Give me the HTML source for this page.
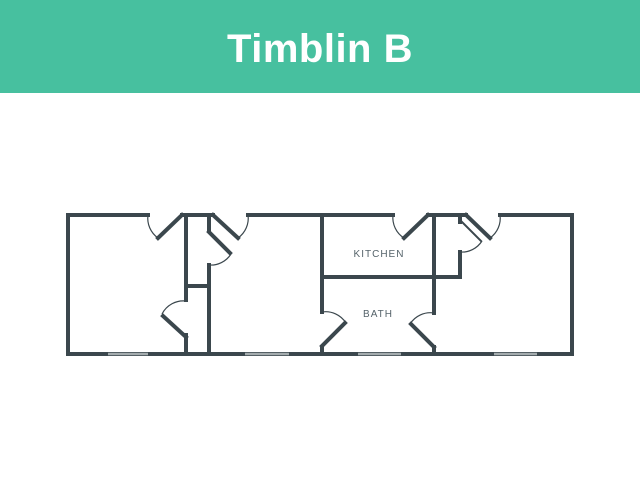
<!DOCTYPE html>
<html><head><style>
body{margin:0;width:640px;height:480px;background:#fff;overflow:hidden;font-family:"Liberation Sans",sans-serif}
.h{position:absolute;left:0;top:0;width:640px;height:93px;background:#47c09f;color:#fff;font-weight:bold;font-size:40px;text-align:center;line-height:98px;letter-spacing:0.5px}
svg{position:absolute;left:0;top:0}
</style></head><body>
<div class="h">Timblin B</div>
<svg width="640" height="480" viewBox="0 0 640 480">
<g fill="none" stroke="#3b474d" stroke-width="4" stroke-linecap="square">
<polyline points="148,215 68,215 68,354 572,354 572,215 500,215"/>
<line x1="182" y1="215" x2="213" y2="215"/>
<line x1="248" y1="215" x2="393" y2="215"/>
<line x1="428" y1="215" x2="466" y2="215"/>
<line x1="186" y1="215" x2="186" y2="300"/>
<line x1="186" y1="335" x2="186" y2="354"/>
<line x1="186" y1="286" x2="209" y2="286"/>
<line x1="209" y1="215" x2="209" y2="230"/>
<line x1="209" y1="265" x2="209" y2="354"/>
<line x1="322" y1="215" x2="322" y2="312"/>
<line x1="322" y1="347" x2="322" y2="354"/>
<line x1="434" y1="215" x2="434" y2="313"/>
<line x1="434" y1="347" x2="434" y2="354"/>
<polyline points="322,277 460,277 460,252"/>
<line x1="460" y1="215" x2="460" y2="222"/>
<line x1="158" y1="238" x2="182" y2="215"/>
<line x1="213" y1="215" x2="238" y2="238"/>
<line x1="209" y1="232" x2="230" y2="253"/>
<line x1="163" y1="316" x2="186" y2="337"/>
<line x1="345" y1="323" x2="322" y2="346"/>
<line x1="411" y1="324" x2="434" y2="347"/>
<line x1="404" y1="238" x2="428" y2="215"/>
<line x1="490" y1="238" x2="466" y2="215"/>
<line x1="460" y1="220" x2="481" y2="241" stroke-width="2"/>
</g>
<g fill="none" stroke="#3b474d" stroke-width="1.2">
<path d="M148,215 A24,24 0 0 0 158,238"/>
<path d="M248,215 A24,24 0 0 1 238,238"/>
<path d="M231,254 A24,24 0 0 1 209,265"/>
<path d="M186,301 A24,24 0 0 0 162,314"/>
<path d="M322,312 A24,24 0 0 1 346,323"/>
<path d="M434,313 A24,24 0 0 0 410,324"/>
<path d="M393,215 A24,24 0 0 0 404,238"/>
<path d="M500,215 A24,24 0 0 1 490,238"/>
<path d="M482,241 A24,24 0 0 1 460,252"/>
</g>
<g stroke="#a4acae" stroke-width="2.5">
<line x1="108" y1="354" x2="148" y2="354"/>
<line x1="245" y1="354" x2="289" y2="354"/>
<line x1="358" y1="354" x2="401" y2="354"/>
<line x1="494" y1="354" x2="537" y2="354"/>
</g>
<g fill="#55636a" font-family="Liberation Sans,sans-serif" font-size="10" letter-spacing="1" text-anchor="middle">
<text x="379" y="257">KITCHEN</text>
<text x="378" y="317">BATH</text>
</g>
</svg>
</body></html>
